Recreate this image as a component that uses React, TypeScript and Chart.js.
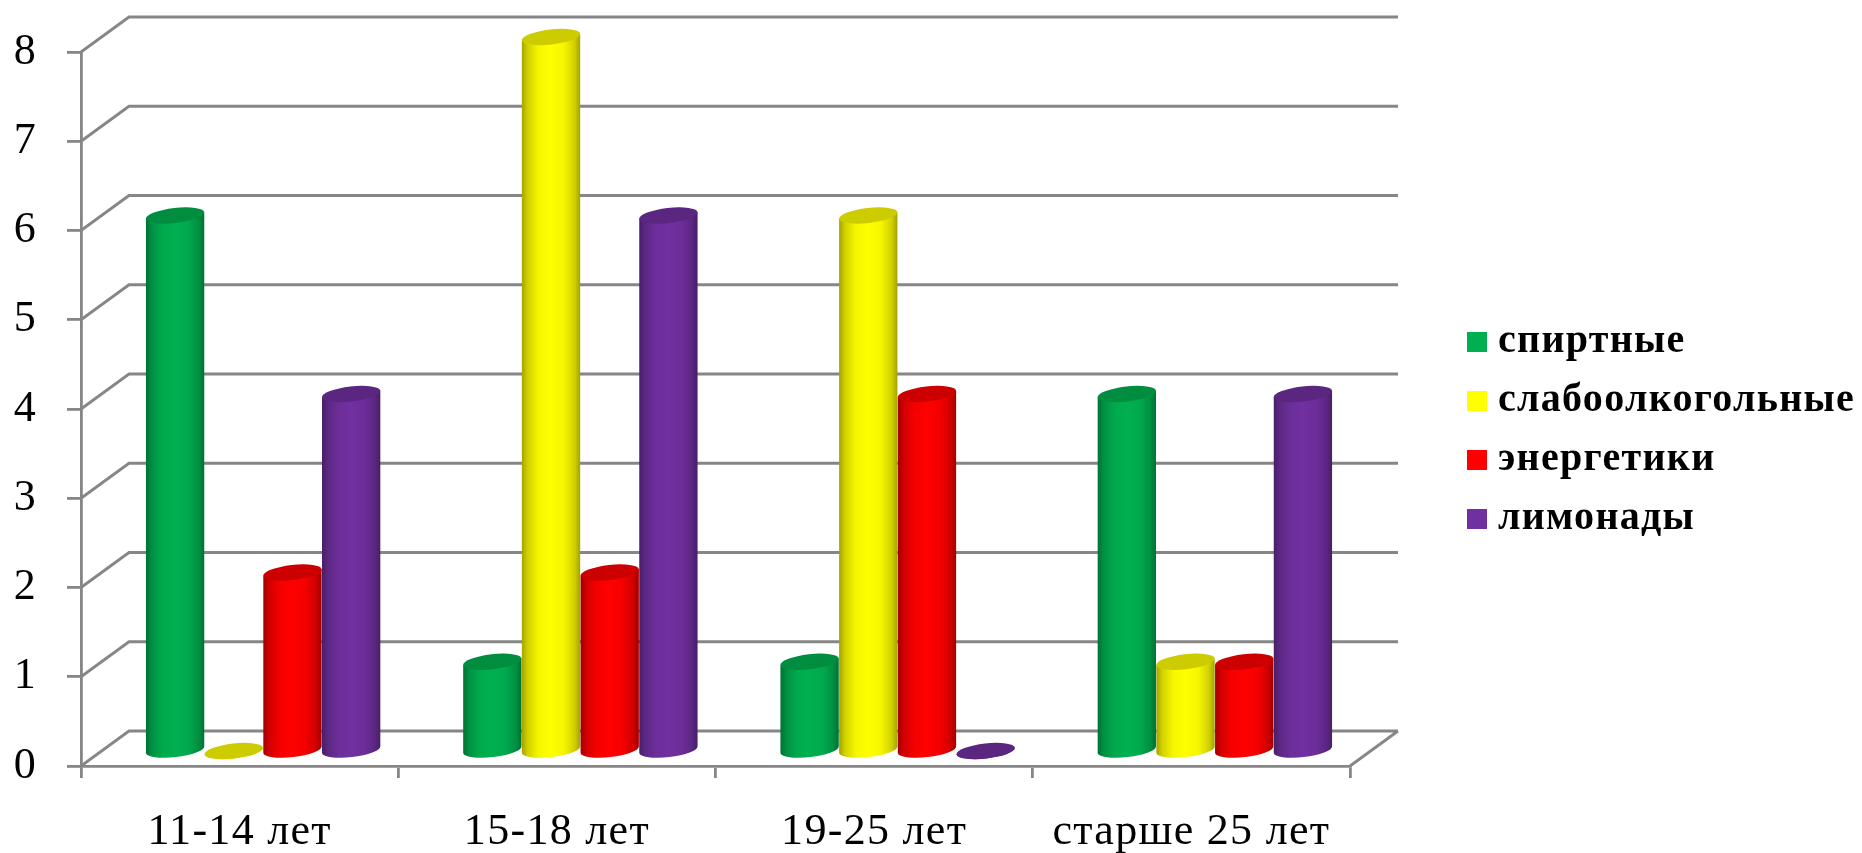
import React, { useEffect, useRef } from "react";
import { Chart, BarController, BarElement, registerables, layouts } from "chart.js";

const categories = ["11-14 лет", "15-18 лет", "19-25 лет", "старше 25 лет"];
const seriesNames = ["спиртные", "слабоолкогольные", "энергетики", "лимонады"];
const spirits = [6, 1, 1, 4];
const lowAlcohol = [0, 8, 6, 1];
const energy = [2, 2, 4, 1];
const lemonade = [4, 6, 0, 4];
const seriesColors = ["#00B050", "#FFFF00", "#FF0000", "#7030A0"];
const yTicks = [0, 1, 2, 3, 4, 5, 6, 7, 8];

const AXIS = "#868686";
const AXIS_W = 2.8;
const DEPTH_X = 48;
const DEPTH_Y = 35;
const BAR_DX = 23.5;
const BAR_DY = -15;
const TILT = (6.5 * Math.PI) / 180;
const RY = 7.5;

function shade(hex: string, k: number) {
  const n = parseInt(hex.slice(1), 16);
  const c = [(n >> 16) & 255, (n >> 8) & 255, n & 255].map((v) => Math.round(v * k));
  return `rgb(${c[0]},${c[1]},${c[2]})`;
}

function swatch(color: string) {
  const c = document.createElement("canvas");
  c.width = 20;
  c.height = 20;
  const g = c.getContext("2d")!;
  g.fillStyle = color;
  g.fillRect(0, 0, 20, 20);
  return c;
}

class CylinderElement extends BarElement {
  static id = "cylinder";
  draw(ctx: CanvasRenderingContext2D) {
    const { x, y, base, width } = (this as any).getProps(["x", "y", "base", "width"]);
    const color = (this as any).options.backgroundColor as string;
    const cx = x + BAR_DX;
    const top = y + BAR_DY;
    const bottom = base + BAR_DY;
    const rx = width / 2;
    const ex = rx * Math.cos(TILT);
    const ey = rx * Math.sin(TILT);
    ctx.save();
    const g = ctx.createLinearGradient(cx - ex, 0, cx + ex, 0);
    g.addColorStop(0, shade(color, 0.64));
    g.addColorStop(0.1, shade(color, 0.82));
    g.addColorStop(0.28, shade(color, 0.96));
    g.addColorStop(0.5, shade(color, 1));
    g.addColorStop(0.72, shade(color, 0.96));
    g.addColorStop(0.9, shade(color, 0.82));
    g.addColorStop(1, shade(color, 0.64));
    ctx.fillStyle = g;
    ctx.beginPath();
    ctx.moveTo(cx - ex, top + ey);
    ctx.lineTo(cx - ex, bottom + ey);
    ctx.ellipse(cx, bottom, rx, RY, -TILT, Math.PI, 0, true);
    ctx.lineTo(cx + ex, top - ey);
    ctx.closePath();
    ctx.fill();
    ctx.fillStyle = shade(color, 0.8);
    ctx.beginPath();
    ctx.ellipse(cx, top, rx, RY, -TILT, 0, Math.PI * 2);
    ctx.fill();
    ctx.restore();
  }
}

class CylinderController extends BarController {
  static id = "cylinderBar";
  static defaults = { ...(BarController as any).defaults, dataElementType: "cylinder" };
}

Chart.register(...registerables, CylinderElement as any, CylinderController as any);

const wallPlugin = {
  id: "wall",
  install(chart: any) {
    layouts.addBox(chart, {
      position: "right",
      weight: -10,
      width: 0,
      height: 0,
      options: {},
      isHorizontal: () => false,
      update(this: any, _w: number, h: number) {
        this.width = 112;
        this.height = h;
      },
      draw() {},
    } as any);
  },
  beforeUpdate(chart: any) {
    chart.ctx.letterSpacing = "1.3px";
  },
  afterLayout(chart: any) {
    const legend = chart.legend;
    legend.left = 1476 - legend.options.labels.padding;
    legend.right = 1862;
    legend.top -= 21;
    legend.bottom -= 21;
  },
  beforeDatasetsDraw(chart: any) {
    const { ctx, scales, chartArea } = chart;
    const left = chartArea.left;
    const right = chartArea.right;
    ctx.save();
    ctx.strokeStyle = AXIS;
    ctx.lineWidth = AXIS_W;
    ctx.beginPath();
    yTicks.forEach((v) => {
      const py = scales.y.getPixelForValue(v);
      ctx.moveTo(left, py);
      ctx.lineTo(left + DEPTH_X, py - DEPTH_Y);
      ctx.lineTo(right + DEPTH_X, py - DEPTH_Y);
    });
    const p0 = scales.y.getPixelForValue(0);
    ctx.moveTo(right, p0);
    ctx.lineTo(right + DEPTH_X, p0 - DEPTH_Y);
    ctx.stroke();
    ctx.restore();
    chart.data.datasets.forEach((_d: any, i: number) => chart.getDatasetMeta(i).controller.draw());
    return false;
  },
};

export default function App() {
  const ref = useRef<HTMLCanvasElement>(null);
  useEffect(() => {
    const tickFont = { family: "Liberation Serif", size: 44, lineHeight: 1 };
    const chart = new Chart(ref.current!, {
      type: "cylinderBar" as any,
      data: {
        labels: categories,
        datasets: [spirits, lowAlcohol, energy, lemonade].map((data, i) => ({
          label: seriesNames[i],
          data,
          backgroundColor: seriesColors[i],
          borderColor: seriesColors[i],
          borderWidth: 0,
          pointStyle: swatch(seriesColors[i]),
          categoryPercentage: 0.74,
          barPercentage: 1,
        })),
      },
      options: {
        responsive: false,
        animation: false,
        devicePixelRatio: 1,
        layout: { padding: { top: 50, left: 0, right: 0, bottom: 0 } },
        plugins: {
          tooltip: { enabled: false },
          legend: {
            position: "right",
            maxWidth: 400,
            labels: {
              color: "#000",
              usePointStyle: true,
              boxWidth: 2,
              boxHeight: 20,
              padding: 19,
              font: { family: "Liberation Serif", size: 40, weight: "bold" },
            },
          },
        },
        scales: {
          x: {
            type: "category",
            offset: true,
            grid: { offset: true, drawOnChartArea: false, color: AXIS, lineWidth: AXIS_W, tickLength: 12 },
            border: { color: AXIS, width: AXIS_W },
            ticks: { color: "#000", font: tickFont, padding: 32, maxRotation: 0 },
            afterFit: (s: any) => {
              s.height = 87;
            },
          },
          y: {
            type: "linear",
            min: 0,
            max: 8,
            grid: { drawOnChartArea: false, color: AXIS, lineWidth: AXIS_W, tickLength: 14 },
            border: { color: AXIS, width: AXIS_W },
            ticks: { color: "#000", font: tickFont, stepSize: 1, padding: 30 },
            afterFit: (s: any) => {
              s.width = 81;
            },
          },
        },
      } as any,
      plugins: [wallPlugin as any],
    });
    return () => chart.destroy();
  }, []);
  return (
    <div style={{ position: "fixed", left: 0, top: 0, width: 1862, height: 853, background: "#fff" }}>
      <canvas ref={ref} width={1862} height={853} style={{ display: "block" }} />
    </div>
  );
}
